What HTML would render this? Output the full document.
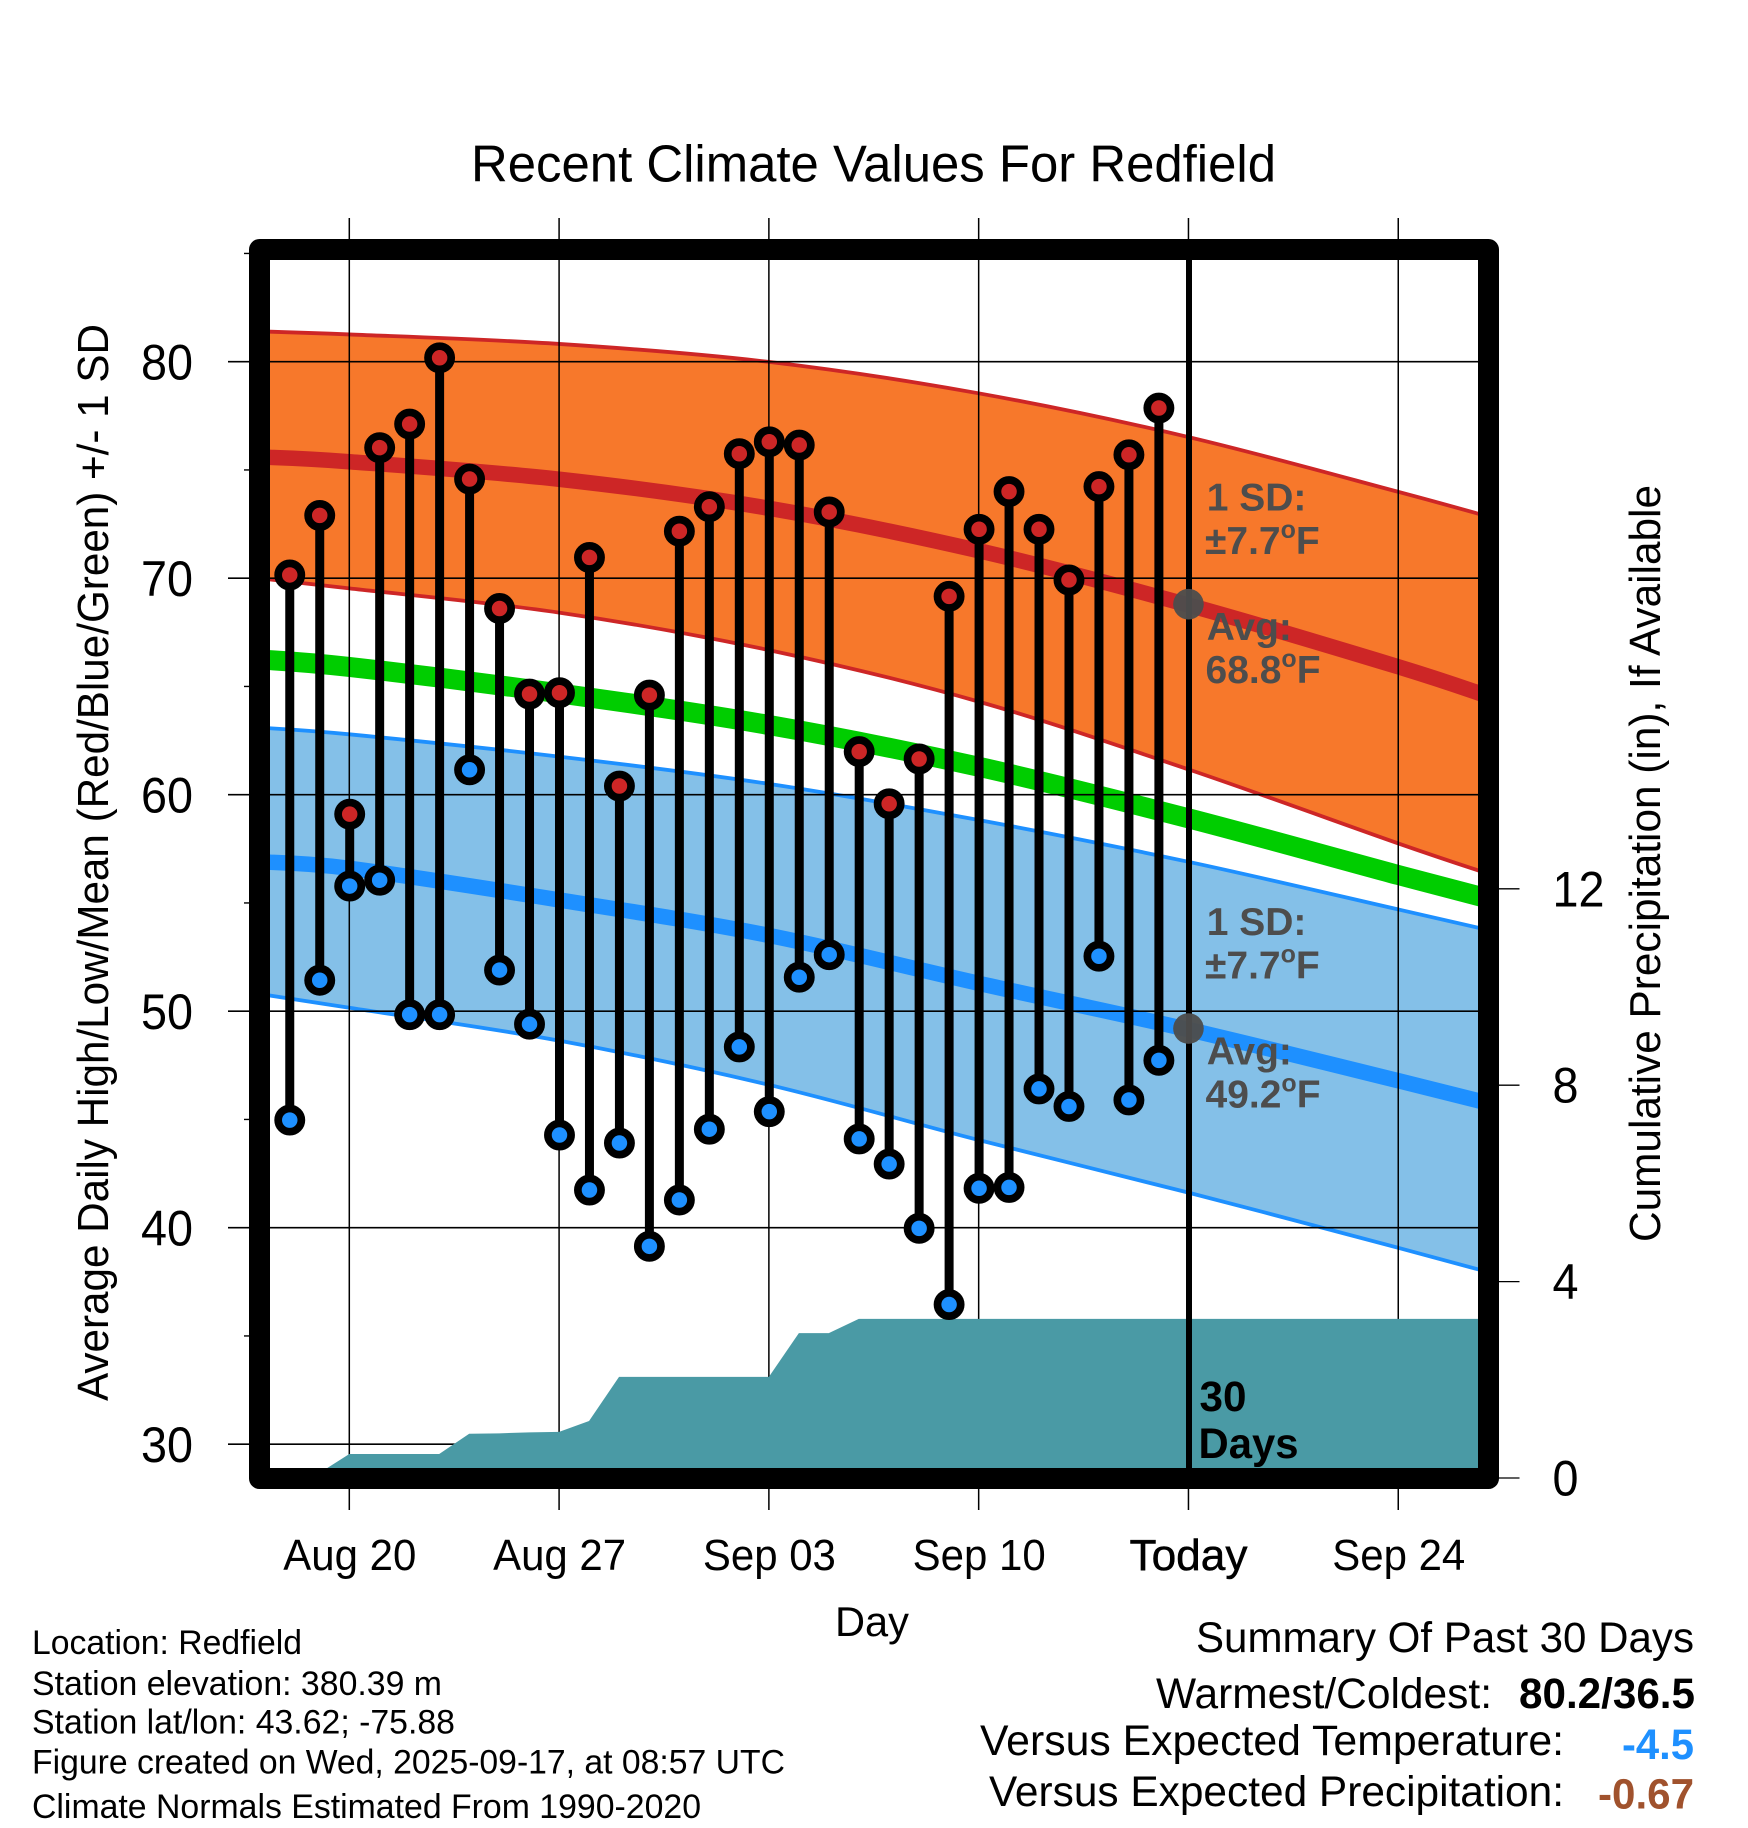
<!DOCTYPE html>
<html>
<head>
<meta charset="utf-8">
<title>Recent Climate Values For Redfield</title>
<style>
html,body{margin:0;padding:0;background:#fff;width:1748px;height:1828px;overflow:hidden}
svg{display:block}
text{font-family:"Liberation Sans",Arial,sans-serif;fill:#000}
.b{font-weight:bold}
.note{font-weight:bold;font-size:39px;fill:#4d4d4d}
</style>
</head>
<body>
<svg id="chart" xmlns="http://www.w3.org/2000/svg" width="1748" height="1828" viewBox="0 0 1748 1828">
  <rect x="0" y="0" width="1748" height="1828" fill="#fff"/>
  <defs><clipPath id="plot-clip"><rect x="270" y="260" width="1208" height="1208"/></clipPath></defs>
  <g id="bands" clip-path="url(#plot-clip)"></g>
  <g id="grid"></g>
  <g id="precip" clip-path="url(#plot-clip)"></g>
  <rect id="today-line" x="1186" y="260" width="6" height="1208" fill="#000"/>
  <g id="stems"></g>
  <g id="markers"></g>
  <rect x="259.5" y="249.5" width="1229" height="1229" fill="none" stroke="#000" stroke-width="21" stroke-linejoin="round"/>
  <g id="today-dots"></g>
  <g id="labels"></g>

  <text x="471" y="181.5" font-size="52" textLength="805" lengthAdjust="spacingAndGlyphs">Recent Climate Values For Redfield</text>
  <text transform="translate(108,1401) rotate(-90)" font-size="43.5" textLength="1077" lengthAdjust="spacingAndGlyphs">Average Daily High/Low/Mean (Red/Blue/Green) +/- 1 SD</text>
  <text transform="translate(1660,1242) rotate(-90)" font-size="43.5" textLength="757" lengthAdjust="spacingAndGlyphs">Cumulative Precipitation (in), If Available</text>
  <text x="872" y="1636" font-size="42" text-anchor="middle" textLength="74" lengthAdjust="spacingAndGlyphs">Day</text>

  <text class="note" x="1206.7" y="510.7">1 SD:</text>
  <text class="note" x="1205" y="554">±7.7<tspan font-size="25" dy="-16">o</tspan><tspan dy="16">F</tspan></text>
  <text class="note" x="1206.7" y="640">Avg:</text>
  <text class="note" x="1205.5" y="683">68.8<tspan font-size="25" dy="-16">o</tspan><tspan dy="16">F</tspan></text>
  <text class="note" x="1206.7" y="935">1 SD:</text>
  <text class="note" x="1205" y="978.3">±7.7<tspan font-size="25" dy="-16">o</tspan><tspan dy="16">F</tspan></text>
  <text class="note" x="1206.7" y="1064.3">Avg:</text>
  <text class="note" x="1205.5" y="1107.7">49.2<tspan font-size="25" dy="-16">o</tspan><tspan dy="16">F</tspan></text>
  <text class="b" x="1199.5" y="1411" font-size="43" textLength="47" lengthAdjust="spacingAndGlyphs">30</text>
  <text class="b" x="1198.5" y="1458" font-size="43" textLength="100" lengthAdjust="spacingAndGlyphs">Days</text>

  <text x="32" y="1654" font-size="34.5" textLength="270" lengthAdjust="spacingAndGlyphs">Location: Redfield</text>
  <text x="32" y="1695" font-size="34.5" textLength="410" lengthAdjust="spacingAndGlyphs">Station elevation: 380.39 m</text>
  <text x="32" y="1733.5" font-size="34.5" textLength="423" lengthAdjust="spacingAndGlyphs">Station lat/lon: 43.62; -75.88</text>
  <text x="32" y="1773.5" font-size="34.5" textLength="753" lengthAdjust="spacingAndGlyphs">Figure created on Wed, 2025-09-17, at 08:57 UTC</text>
  <text x="32" y="1818" font-size="34.5" textLength="669" lengthAdjust="spacingAndGlyphs">Climate Normals Estimated From 1990-2020</text>

  <text x="1196" y="1652" font-size="42.5" textLength="498" lengthAdjust="spacingAndGlyphs">Summary Of Past 30 Days</text>
  <text x="1156" y="1708" font-size="42.5" textLength="336" lengthAdjust="spacingAndGlyphs">Warmest/Coldest:</text>
  <text class="b" x="1519" y="1708" font-size="43" textLength="176" lengthAdjust="spacingAndGlyphs">80.2/36.5</text>
  <text x="980" y="1755" font-size="42.5" textLength="584" lengthAdjust="spacingAndGlyphs">Versus Expected Temperature:</text>
  <text class="b" x="1622" y="1759" font-size="42.5" textLength="72" lengthAdjust="spacingAndGlyphs" style="fill:#1e90ff">-4.5</text>
  <text x="989" y="1806" font-size="42.5" textLength="575" lengthAdjust="spacingAndGlyphs">Versus Expected Precipitation:</text>
  <text class="b" x="1598" y="1808.5" font-size="42.5" textLength="96" lengthAdjust="spacingAndGlyphs" style="fill:#a0522d">-0.67</text>
</svg>
<script>
// Data: day offsets are counted from Aug 20.
const firstDay = -2;
const dailyHighs = [70.15,72.9,59.1,76.03,77.12,80.18,74.58,68.6,64.65,64.71,70.96,60.4,64.6,72.17,73.3,75.75,76.3,76.15,73.06,61.99,59.58,61.65,69.16,72.26,74.0,72.26,69.92,74.23,75.7,77.86];
const dailyLows = [44.97,51.43,55.78,56.05,49.84,49.84,61.15,51.9,49.4,44.28,41.74,43.91,39.14,41.28,44.55,48.35,45.36,51.57,52.61,44.1,42.94,39.97,36.45,41.82,41.86,46.41,45.6,52.54,45.9,47.73];
const cumulativePrecip = [0,0.1,0.49,0.49,0.49,0.49,0.9,0.91,0.93,0.94,1.16,2.06,2.06,2.06,2.06,2.06,2.06,2.95,2.95,3.24,3.24,3.24,3.24,3.24,3.24,3.24,3.24,3.24,3.24,3.24];
const normalDays = [-3,0,7,14,21,28,35,38];
const highUpper = [81.4,81.26,80.82,79.99,78.54,76.52,73.99,72.85];
const highAvg = [75.6,75.38,74.57,73.23,71.27,68.76,65.91,64.55];
const highLower = [70,69.53,68.41,66.68,64.3,61.17,57.75,56.35];
const meanAvg = [66.25,65.9,64.68,63.22,61.29,58.91,56.29,55.2];
const lowUpper = [63.1,62.79,61.76,60.5,58.83,56.9,54.7,53.75];
const lowAvg = [56.9,56.6,55.14,53.5,51.29,49.15,46.79,45.75];
const lowLower = [50.8,50.16,48.64,46.6,44.05,41.62,39.07,37.95];
const todayDay = 28;
const todayHighAvg = 68.8;
const todayLowAvg = 49.2;
const tempMajorTicks = [30,40,50,60,70,80];
const tempMinorTicks = [35,45,55,65,75,85];
const precipTicks = [0,4,8,12];
const dayTicks = [0,7,14,21,28,35];
const dayTickLabels = ["Aug 20","Aug 27","Sep 03","Sep 10","Today","Sep 24"];

// Axis functions
function xDay(d){ return 349.3 + 29.97 * d; }
function yTemp(v){ return 361.7 + (80 - v) * 21.65; }
function yPrecip(p){ return 1478 - 49.1 * p; }

const NS = "http://www.w3.org/2000/svg";
function mk(tag, parent){
  const el = document.createElementNS(NS, tag);
  parent.appendChild(el);
  return el;
}
function set(el, props){
  for (const k in props) el.setAttribute(k, props[k]);
}
// Smooth curve through the normal values
function curve(days, vals, reverse){
  let pts = days.map((d,i)=>[xDay(d), yTemp(vals[i])]);
  if (reverse) pts = pts.slice().reverse();
  let s = "";
  for (let i=0;i<pts.length-1;i++){
    const p0=pts[Math.max(i-1,0)],p1=pts[i],p2=pts[i+1],p3=pts[Math.min(i+2,pts.length-1)];
    s += "C"+(p1[0]+(p2[0]-p0[0])/6).toFixed(2)+" "+(p1[1]+(p2[1]-p0[1])/6).toFixed(2)+" "+
         (p2[0]-(p3[0]-p1[0])/6).toFixed(2)+" "+(p2[1]-(p3[1]-p1[1])/6).toFixed(2)+" "+
         p2[0].toFixed(2)+" "+p2[1].toFixed(2);
  }
  return {start:pts[0], seg:s};
}
function linePath(vals){
  const c = curve(normalDays, vals, false);
  return "M"+c.start[0].toFixed(2)+" "+c.start[1].toFixed(2)+c.seg;
}
function bandPath(up, low){
  const a = curve(normalDays, up, false);
  const b = curve(normalDays, low, true);
  return "M"+a.start[0].toFixed(2)+" "+a.start[1].toFixed(2)+a.seg+
         "L"+b.start[0].toFixed(2)+" "+b.start[1].toFixed(2)+b.seg+"Z";
}

const bands = document.getElementById("bands");
const grid = document.getElementById("grid");
const precipLayer = document.getElementById("precip");
const stems = document.getElementById("stems");
const markers = document.getElementById("markers");
const dots = document.getElementById("today-dots");
const labels = document.getElementById("labels");

// Bands and normals
let p;
p = mk("path", bands);


set(p, {d:bandPath(highUpper, highLower), fill:"#f7782b"});

p = mk("path", bands);


set(p, {d:bandPath(lowUpper, lowLower), fill:"#84c0e8"});

p = mk("path", bands);


set(p, {d:linePath(highUpper), fill:"none", stroke:"#cd2626", "stroke-width":3.8});

p = mk("path", bands);


set(p, {d:linePath(highLower), fill:"none", stroke:"#cd2626", "stroke-width":3.8});

p = mk("path", bands);


set(p, {d:linePath(highAvg), fill:"none", stroke:"#cd2626", "stroke-width":15.5});

p = mk("path", bands);


set(p, {d:linePath(meanAvg), fill:"none", stroke:"#00cd00", "stroke-width":20});

p = mk("path", bands);


set(p, {d:linePath(lowUpper), fill:"none", stroke:"#1e90ff", "stroke-width":3.8});

p = mk("path", bands);


set(p, {d:linePath(lowLower), fill:"none", stroke:"#1e90ff", "stroke-width":3.8});

p = mk("path", bands);


set(p, {d:linePath(lowAvg), fill:"none", stroke:"#1e90ff", "stroke-width":15.5});

// Grid and ticks
tempMajorTicks.forEach(function(v){
  const g = mk("line", grid);
  
  
  set(g, {x1:228, x2:1478, y1:yTemp(v), y2:yTemp(v), stroke:"#000", "stroke-width":1.6});
  const t = mk("text", labels);
  
  
  set(t, {x:141, y:yTemp(v)+18, "font-size":50.5, textLength:52, lengthAdjust:"spacingAndGlyphs"});
  t.textContent = String(v);
});
tempMinorTicks.forEach(function(v){
  const g = mk("line", grid);
  
  
  set(g, {x1:244, x2:252, y1:yTemp(v), y2:yTemp(v), stroke:"#000", "stroke-width":1.4});
});
dayTicks.forEach(function(d,i){
  const g = mk("line", grid);
  
  
  set(g, {x1:xDay(d), x2:xDay(d), y1:218, y2:1510, stroke:"#000", "stroke-width":1.5});
  const t = mk("text", labels);
  
  
  const isToday = dayTickLabels[i] === "Today";
  set(t, {x:xDay(d)+(isToday?0:0.5), y:1570, "font-size":43.5, "text-anchor":"middle", textLength:isToday?118:133, lengthAdjust:"spacingAndGlyphs"});
  if (isToday) set(t, {stroke:"#000", "stroke-width":0.5});
  t.textContent = dayTickLabels[i];
});
precipTicks.forEach(function(v){
  const g = mk("line", grid);
  
  
  set(g, {x1:1495, x2:1519.5, y1:yPrecip(v), y2:yPrecip(v), stroke:"#000", "stroke-width":1.3});
  const t = mk("text", labels);
  
  
  const s = String(v);
  set(t, {x:1552.5, y:yPrecip(v)+17.5, "font-size":50.5, textLength:26*s.length, lengthAdjust:"spacingAndGlyphs"});
  t.textContent = s;
});

// Precipitation area
let area = "M"+xDay(firstDay)+" "+yPrecip(0);
cumulativePrecip.forEach(function(v,i){
  area += "L"+xDay(firstDay+i).toFixed(2)+" "+yPrecip(v).toFixed(2);
});
const lastPrecip = cumulativePrecip[cumulativePrecip.length-1];
area += "L"+xDay(38).toFixed(2)+" "+yPrecip(lastPrecip).toFixed(2)+"L"+xDay(38).toFixed(2)+" "+yPrecip(0)+"Z";
p = mk("path", precipLayer);


set(p, {d:area, fill:"#4a9aa5"});

// Daily stems and markers
dailyHighs.forEach(function(h,i){
  const d = firstDay + i;
  const x = xDay(d) + 0.4;
  const s = mk("line", stems);
  
  
  set(s, {x1:x, x2:x, y1:yTemp(h), y2:yTemp(dailyLows[i]), stroke:"#000", "stroke-width":9});
});
dailyHighs.forEach(function(h,i){
  const d = firstDay + i;
  const x = xDay(d) + 0.4;
  const lo = mk("circle", markers);
  
  
  set(lo, {cx:x, cy:yTemp(dailyLows[i]), r:11.6, fill:"#1e90ff", stroke:"#000", "stroke-width":7.7});
  const hi = mk("circle", markers);
  
  
  set(hi, {cx:x, cy:yTemp(h), r:11.6, fill:"#cd2626", stroke:"#000", "stroke-width":7.7});
});

// Today's normals
let c = mk("circle", dots);


set(c, {cx:xDay(todayDay), cy:yTemp(todayHighAvg), r:15.3, fill:"#4d4d4d", opacity:0.96});
c = mk("circle", dots);


set(c, {cx:xDay(todayDay), cy:yTemp(todayLowAvg), r:15.3, fill:"#4d4d4d", opacity:0.96});
</script>
</body>
</html>
